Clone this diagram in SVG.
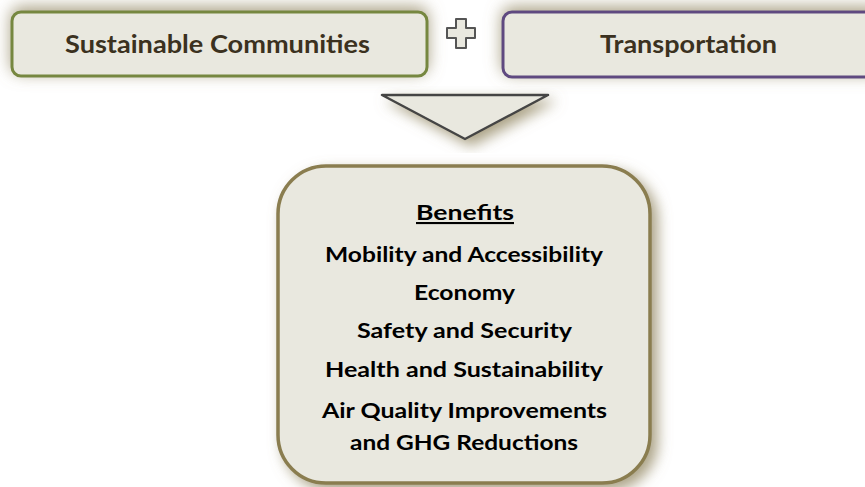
<svg xmlns="http://www.w3.org/2000/svg" width="865" height="487" viewBox="0 0 865 487">
<defs>
<filter id="glow" x="-20%" y="-80%" width="140%" height="260%">
<feDropShadow dx="0" dy="-4" stdDeviation="8" flood-color="#9c9270" flood-opacity="0.85"/>
</filter>
<filter id="shadow" x="-20%" y="-20%" width="150%" height="150%">
<feDropShadow dx="6" dy="6" stdDeviation="7" flood-color="#9c9270" flood-opacity="0.85"/>
</filter>
<style>
.box{fill:#e9e8df;}
.top{font-family:Lato,"Open Sans","Liberation Sans",sans-serif;font-weight:700;font-size:25px;fill:#3b3120;}
.ben{font-family:Lato,"Open Sans","Liberation Sans",sans-serif;font-weight:700;font-size:21px;fill:#000;text-anchor:middle;}
</style>
</defs>
<rect width="865" height="487" fill="#ffffff"/>
<g id="sustainable-communities">
<rect class="box" x="12" y="12" width="415" height="64" rx="9" stroke="#76873f" stroke-width="3" filter="url(#glow)"/>
<text class="top" x="65" y="53" textLength="305" lengthAdjust="spacingAndGlyphs">Sustainable Communities</text>
</g>
<g id="plus">
<path d="M456,19 h10 v9 h9 v10 h-9 v10 h-10 v-10 h-9 v-10 h9 z" fill="#e9e8df" stroke="#555" stroke-width="2" stroke-linejoin="round"/>
</g>
<g id="transportation">
<rect class="box" x="503" y="12" width="380" height="65" rx="9" stroke="#5e4a80" stroke-width="3" filter="url(#glow)"/>
<text class="top" x="600" y="53" textLength="177" lengthAdjust="spacingAndGlyphs">Transportation</text>
</g>
<g id="connectors">
<polygon points="382,95 548,95 465,139" fill="#e9e8df" stroke="#444" stroke-width="2.5" stroke-linejoin="round" filter="url(#shadow)"/>
</g>
<g id="benefits">
<rect class="box" x="278" y="166" width="372" height="317" rx="48" stroke="#8a7d50" stroke-width="3.5" filter="url(#shadow)"/>
<text class="ben" x="465" y="220" font-size="23" textLength="98" lengthAdjust="spacingAndGlyphs" text-decoration="underline">Benefits</text>
<text class="ben" x="464" y="262" textLength="278" lengthAdjust="spacingAndGlyphs">Mobility and Accessibility</text>
<text class="ben" x="464.5" y="300" textLength="101" lengthAdjust="spacingAndGlyphs">Economy</text>
<text class="ben" x="464.5" y="338" textLength="215" lengthAdjust="spacingAndGlyphs">Safety and Security</text>
<text class="ben" x="464" y="377" textLength="278" lengthAdjust="spacingAndGlyphs">Health and Sustainability</text>
<text class="ben" x="464.5" y="418" textLength="285" lengthAdjust="spacingAndGlyphs">Air Quality Improvements</text>
<text class="ben" x="464" y="450" textLength="228" lengthAdjust="spacingAndGlyphs">and GHG Reductions</text>
</g>
</svg>
